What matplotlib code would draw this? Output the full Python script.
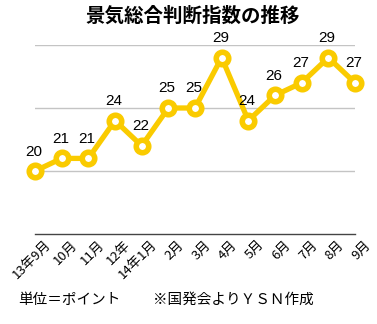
import matplotlib
matplotlib.use('Agg')
import matplotlib.pyplot as plt
import matplotlib.transforms as mtrans

plt.rcParams['font.family'] = ['Noto Sans CJK JP', 'DejaVu Sans']

months = ['13年9月', '10月', '11月', '12年', '14年1月', '2月', '3月',
          '4月', '5月', '6月', '7月', '8月', '9月']
values = [20, 21, 21, 24, 22, 25, 25, 29, 24, 26, 27, 29, 27]
yellow = '#FACB00'

fig = plt.figure(figsize=(3.77, 3.24), dpi=100)
ax = fig.add_axes([35/377, 90/324, 320/377, 189/324])

x = list(range(len(values)))
ax.plot(x, values, color=yellow, lw=3.8, marker='o', ms=9,
        mfc='white', mec=yellow, mew=4, zorder=3, clip_on=False)
for xi, v in zip(x, values):
    ax.annotate(str(v), (xi, v), xytext=(-1, 9), textcoords='offset points',
                ha='center', va='bottom', fontsize=11, family='Liberation Sans')

ax.set_xlim(0, 12)
ax.set_ylim(15, 30)
ax.set_yticks([20, 25, 30])
ax.yaxis.grid(True, color='#C4C4C4', lw=1)
ax.set_axisbelow(True)
ax.tick_params(axis='y', length=0, labelleft=False)
for s in ['top', 'right', 'left']:
    ax.spines[s].set_visible(False)
ax.spines['bottom'].set_color('#444444')
ax.spines['bottom'].set_linewidth(1)

ax.set_xticks(x)
ax.set_xticklabels(months, rotation=45, ha='right', va='top',
                   rotation_mode='anchor', fontsize=9.5)
ax.tick_params(axis='x', length=0, pad=3)
off = mtrans.ScaledTranslation(9/100, 0, fig.dpi_scale_trans)
for lab in ax.get_xticklabels():
    lab.set_transform(lab.get_transform() + off)

fig.text(193/377, 1 - 16/324, '景気総合判断指数の推移', ha='center', va='center',
         fontsize=14, fontweight='bold')
fig.text(18/377, 1 - 300/324, '単位＝ポイント', ha='left', va='center', fontsize=10.5)
fig.text(153/377, 1 - 300/324, '※国発会よりＹＳＮ作成', ha='left', va='center', fontsize=10.5)

fig.savefig('out.png', dpi=100)
